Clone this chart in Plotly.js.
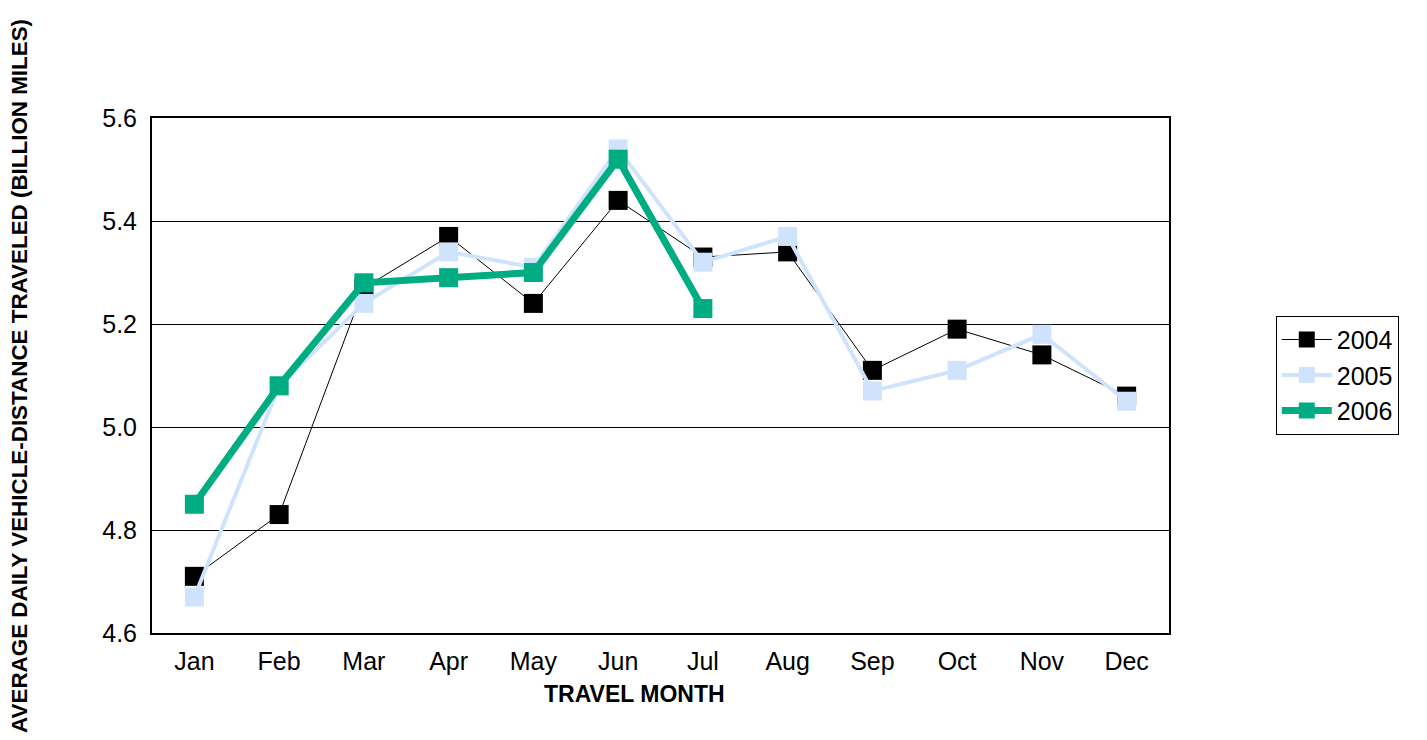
<!DOCTYPE html>
<html>
<head>
<meta charset="utf-8">
<script src="https://cdn.plot.ly/plotly-3.0.1.min.js"></script>
<style>html,body{margin:0;padding:0;background:#fff;}#chart{width:1427px;height:740px;}</style>
</head>
<body>
<div id="chart"></div>
<script>
const months = ["Jan","Feb","Mar","Apr","May","Jun","Jul","Aug","Sep","Oct","Nov","Dec"];
const v2004 = [4.71, 4.83, 5.27, 5.37, 5.24, 5.44, 5.33, 5.34, 5.11, 5.19, 5.14, 5.06];
const v2005 = [4.67, 5.08, 5.24, 5.34, 5.31, 5.54, 5.32, 5.37, 5.07, 5.11, 5.18, 5.05];
const v2006 = [4.85, 5.08, 5.28, 5.29, 5.30, 5.52, 5.23];
const seriesNames = ["2004", "2005", "2006"];
const yTickVals = [4.6, 4.8, 5.0, 5.2, 5.4, 5.6];
const xTitle = "TRAVEL MONTH";
const yTitle = "AVERAGE DAILY VEHICLE-DISTANCE TRAVELED (BILLION MILES)";

const font = "Arial, 'Liberation Sans', sans-serif";
const traces = [
  {x: months, y: v2004, name: seriesNames[0], mode: "lines+markers",
   line: {color: "#000000", width: 1},
   marker: {symbol: "square", size: 19, color: "#000000"}},
  {x: months.slice(0, v2005.length), y: v2005, name: seriesNames[1], mode: "lines+markers",
   line: {color: "#d0e3fc", width: 4},
   marker: {symbol: "square", size: 19, color: "#d0e3fc"}},
  {x: months.slice(0, v2006.length), y: v2006, name: seriesNames[2], mode: "lines+markers",
   line: {color: "#00ac82", width: 7},
   marker: {symbol: "square", size: 19, color: "#00ac82"}}
];

const layout = {
  width: 1427, height: 740,
  margin: {l: 152, r: 258, t: 118, b: 107, pad: 0},
  paper_bgcolor: "#ffffff", plot_bgcolor: "#ffffff",
  font: {family: font, size: 25, color: "#000000"},
  showlegend: true,
  legend: {x: 1.105, xanchor: "left", y: 0.616, yanchor: "top",
    bordercolor: "#000000", borderwidth: 1, bgcolor: "#ffffff",
    font: {family: font, size: 25, color: "#000000"}, tracegroupgap: 0, itemwidth: 50},
  xaxis: {type: "category", categoryarray: months, range: [-0.5, 11.5],
    showline: true, linecolor: "#000000", linewidth: 2, mirror: true,
    showgrid: false, zeroline: false, ticks: "", ticklabelstandoff: 5,
    tickfont: {family: font, size: 25, color: "#000000"}},
  yaxis: {range: [4.6, 5.6], tickvals: yTickVals, tickformat: ".1f",
    showline: true, linecolor: "#000000", linewidth: 2, mirror: true,
    showgrid: true, gridcolor: "#000000", gridwidth: 1, zeroline: false,
    ticks: "", ticklabelstandoff: 8,
    tickfont: {family: font, size: 25, color: "#000000"}},
  annotations: [
    {text: "<b>" + xTitle + "</b>", xref: "paper", yref: "paper",
     x: 0.4749, y: -0.1184, xanchor: "center", yanchor: "middle", showarrow: false,
     font: {family: font, size: 23, color: "#000000"}},
    {text: "<b>" + yTitle + "</b>", xref: "paper", yref: "paper", textangle: -90,
     x: -0.1303, y: 0.5, xanchor: "center", yanchor: "middle", showarrow: false,
     font: {family: font, size: 22.4, color: "#000000"}}
  ]
};

Plotly.newPlot("chart", traces, layout, {displayModeBar: false, responsive: false});
</script>
</body>
</html>
